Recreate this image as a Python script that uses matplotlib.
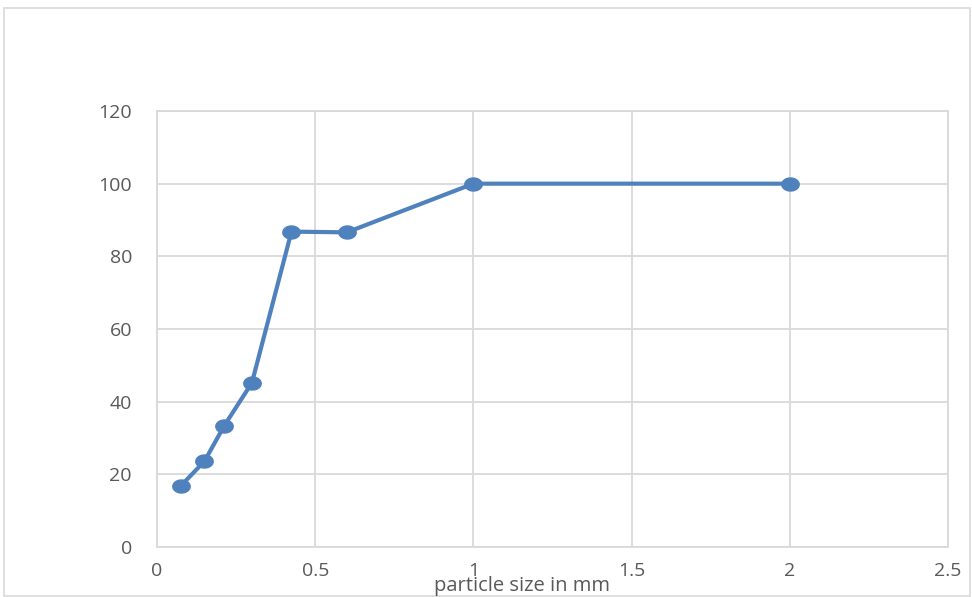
import matplotlib
matplotlib.use("Agg")
import matplotlib.pyplot as plt
import numpy as np
from matplotlib.path import Path
from matplotlib.patches import Rectangle

particle_size = [0.075, 0.15, 0.212, 0.3, 0.425, 0.6, 1.0, 2.0]
percent_passing = [16.8, 23.6, 33.3, 45.2, 86.8, 86.6, 100, 100]
x_ticks = [0, 0.5, 1, 1.5, 2, 2.5]
x_tick_labels = ["0", "0.5", "1", "1.5", "2", "2.5"]
y_ticks = [0, 20, 40, 60, 80, 100, 120]
x_label = "particle size in mm"

W, H = 972, 597
fig = plt.figure(figsize=(W / 100, H / 100), dpi=100)
fig.patch.set_facecolor("white")

# outer chart border
fig.add_artist(Rectangle((4 / W, 1 - 596 / H), (970 - 4) / W, (596 - 8) / H,
                         transform=fig.transFigure, fill=False,
                         edgecolor="#d9d9d9", linewidth=1.2))

left, right, top, bottom = 157, 948, 111, 547
ax = fig.add_axes([left / W, 1 - bottom / H, (right - left) / W, (bottom - top) / H])

blue = "#4f81bd"
t = np.linspace(0, 2 * np.pi, 60)
ellipse = Path(np.column_stack([np.cos(t), 0.75 * np.sin(t)]), closed=True)
ax.plot(particle_size, percent_passing, color=blue, linewidth=3,
        marker=ellipse, markersize=12.5, markerfacecolor=blue,
        markeredgecolor=blue, zorder=3, clip_on=False)

ax.set_xlim(0, 2.5)
ax.set_ylim(0, 120)
ax.set_xticks(x_ticks)
ax.set_xticklabels(x_tick_labels)
ax.set_yticks(y_ticks)
ax.grid(True, color="#d9d9d9", linewidth=1.3)
ax.set_axisbelow(True)
for s in ["top", "right", "left", "bottom"]:
    ax.spines[s].set_color("#d9d9d9")
    ax.spines[s].set_linewidth(1.3)
ax.tick_params(length=0, colors="#595959", labelsize=14)
ax.tick_params(axis="x", pad=11)
ax.tick_params(axis="y", pad=18)
for lab in ax.get_xticklabels() + ax.get_yticklabels():
    lab.set_fontfamily("Open Sans")

fig.text(522 / W, 1 - 586 / H, x_label, ha="center", va="center",
         fontsize=14.5, color="#595959", family="Open Sans")

fig.savefig("out.png", dpi=100)
